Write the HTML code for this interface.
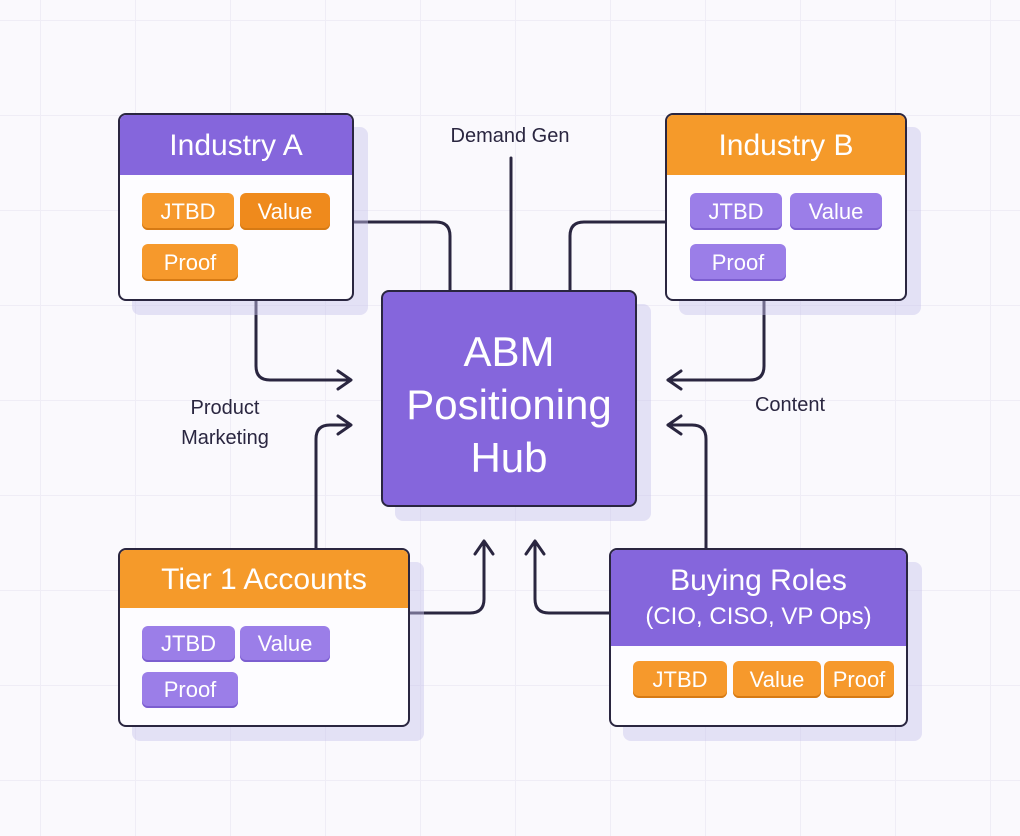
<!DOCTYPE html>
<html><head><meta charset="utf-8"><style>
body{margin:0;width:1020px;height:836px;overflow:hidden;background:#faf9fd;font-family:"Liberation Sans",sans-serif;position:relative;
background-image:linear-gradient(#efedf6 1px,transparent 1px),linear-gradient(90deg,#efedf6 1px,transparent 1px);background-size:95px 95px;background-position:40px 20px;}
.box{position:absolute;border:2px solid #2a2640;border-radius:8px;background:#fdfcff;box-shadow:14px 14px 0 rgba(200,195,235,.45);overflow:hidden;box-sizing:border-box}
.hd{color:#fff;text-align:center;font-size:30px;box-sizing:border-box}
.pu{background:#8566dc}.or{background:#f59a2a}
.chip{position:absolute;border-radius:6px;color:#fff;font-size:22px;text-align:center;box-sizing:border-box}
.co{background:#f6992c;box-shadow:inset 0 -2px 0 #d67a14}.cp{background:#9b7ee8;box-shadow:inset 0 -2px 0 #7c5ed0}
.lbl{position:absolute;color:#2a2640;font-size:20px;text-align:center}
</style></head><body>
<svg width="1020" height="836" style="position:absolute;left:0;top:0" fill="none" stroke="#2a2640" stroke-width="3" stroke-linecap="round" stroke-linejoin="round">
<path d="M353 222 H436 Q450 222 450 236 V290"/>
<path d="M511 158 V290"/>
<path d="M665 222 H584 Q570 222 570 236 V290"/>
<path d="M256 300 V366 Q256 380 270 380 H350"/><path d="M338 371 L351 380 L338 389"/>
<path d="M764 300 V366 Q764 380 750 380 H668"/><path d="M681 371 L668 380 L681 389"/>
<path d="M316 548 V439 Q316 425 330 425 H350"/><path d="M338 416 L351 425 L338 434"/>
<path d="M706 548 V439 Q706 425 692 425 H668"/><path d="M681 416 L668 425 L681 434"/>
<path d="M409 613 H470 Q484 613 484 599 V542"/><path d="M475 554 L484 541 L493 554"/>
<path d="M609 613 H549 Q535 613 535 599 V542"/><path d="M526 554 L535 541 L544 554"/>
</svg>
<div class="lbl" style="left:420px;top:125px;width:180px">Demand Gen</div>
<div class="lbl" style="left:150px;top:393px;width:150px;line-height:30px">Product<br>Marketing</div>
<div class="lbl" style="left:730px;top:394px;width:120px">Content</div>

<div class="box" style="left:118px;top:113px;width:236px;height:188px">
<div class="hd pu" style="height:60px;line-height:62px">Industry A</div>
<div class="chip co" style="left:22px;top:78px;width:92px;height:37px;line-height:37px">JTBD</div>
<div class="chip co" style="left:120px;top:78px;width:90px;height:37px;line-height:37px;background:#ef8a1c">Value</div>
<div class="chip co" style="left:22px;top:129px;width:96px;height:37px;line-height:37px">Proof</div>
</div>

<div class="box" style="left:665px;top:113px;width:242px;height:188px">
<div class="hd or" style="height:60px;line-height:62px">Industry B</div>
<div class="chip cp" style="left:23px;top:78px;width:92px;height:37px;line-height:37px">JTBD</div>
<div class="chip cp" style="left:123px;top:78px;width:92px;height:37px;line-height:37px">Value</div>
<div class="chip cp" style="left:23px;top:129px;width:96px;height:37px;line-height:37px">Proof</div>
</div>

<div class="box pu" style="left:381px;top:290px;width:256px;height:217px;background:#8566dc;color:#fff;font-size:42px;text-align:center;line-height:53px;padding-top:33px">ABM<br>Positioning<br>Hub</div>

<div class="box" style="left:118px;top:548px;width:292px;height:179px">
<div class="hd or" style="height:58px;line-height:60px">Tier 1 Accounts</div>
<div class="chip cp" style="left:22px;top:76px;width:93px;height:36px;line-height:36px">JTBD</div>
<div class="chip cp" style="left:120px;top:76px;width:90px;height:36px;line-height:36px">Value</div>
<div class="chip cp" style="left:22px;top:122px;width:96px;height:36px;line-height:36px">Proof</div>
</div>

<div class="box" style="left:609px;top:548px;width:299px;height:179px">
<div class="hd pu" style="height:96px;padding-top:14px;line-height:34px">Buying Roles<br><span style="font-size:24px">(CIO, CISO, VP Ops)</span></div>
<div class="chip co" style="left:22px;top:111px;width:94px;height:37px;line-height:37px">JTBD</div>
<div class="chip co" style="left:122px;top:111px;width:88px;height:37px;line-height:37px">Value</div>
<div class="chip co" style="left:213px;top:111px;width:70px;height:37px;line-height:37px">Proof</div>
</div>
</body></html>
